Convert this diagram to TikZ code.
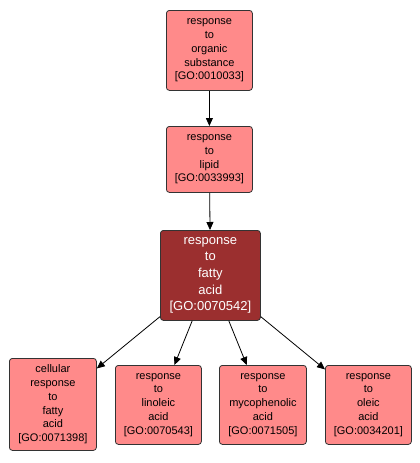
\documentclass[tikz,border=0pt]{standalone}
\usepackage{fontspec}
\setmainfont{Liberation Sans}
\usetikzlibrary{arrows.meta}
\begin{document}
\begin{tikzpicture}[x=1pt,y=-1pt,
  term/.style={draw=black!80,line width=0.8pt,rounded corners=3pt,fill=salmon,align=center,
    font=\fontsize{11}{13.8}\selectfont,inner sep=0pt,anchor=north west},
  focus/.style={term,fill=darkred,text=white,font=\fontsize{13}{16.7}\selectfont},
  edge/.style={-{Triangle[length=8pt,width=7pt]},line width=0.8pt,black}]
\definecolor{salmon}{HTML}{FF8A8A}
\definecolor{darkred}{HTML}{9B2F2F}
\useasboundingbox (0,0) rectangle (420,463);
\node[term,minimum width=86pt,minimum height=80pt] (n1) at (166,10) {response\\to\\organic\\substance\\{}[GO:0010033]};
\node[term,minimum width=86pt,minimum height=66pt] (n2) at (166,126) {response\\to\\lipid\\{}[GO:0033993]};
\node[focus,minimum width=100pt,minimum height=90pt] (n3) at (160,230) {response\\to\\fatty\\acid\\{}[GO:0070542]};
\node[term,minimum width=87pt,minimum height=92pt] (c1) at (9,358) {cellular\\response\\to\\fatty\\acid\\{}[GO:0071398]};
\node[term,minimum width=86pt,minimum height=79pt] (c2) at (115,365) {response\\to\\linoleic\\acid\\{}[GO:0070543]};
\node[term,minimum width=87pt,minimum height=79pt] (c3) at (219,365) {response\\to\\mycophenolic\\acid\\{}[GO:0071505]};
\node[term,minimum width=86pt,minimum height=79pt] (c4) at (325,365) {response\\to\\oleic\\acid\\{}[GO:0034201]};
\draw[edge] (n1) -- (n2);
\draw[edge] (n2) -- (n3);
\draw[edge] (n3) -- (c1);
\draw[edge] (n3) -- (c2);
\draw[edge] (n3) -- (c3);
\draw[edge] (n3) -- (c4);
\end{tikzpicture}
\end{document}
